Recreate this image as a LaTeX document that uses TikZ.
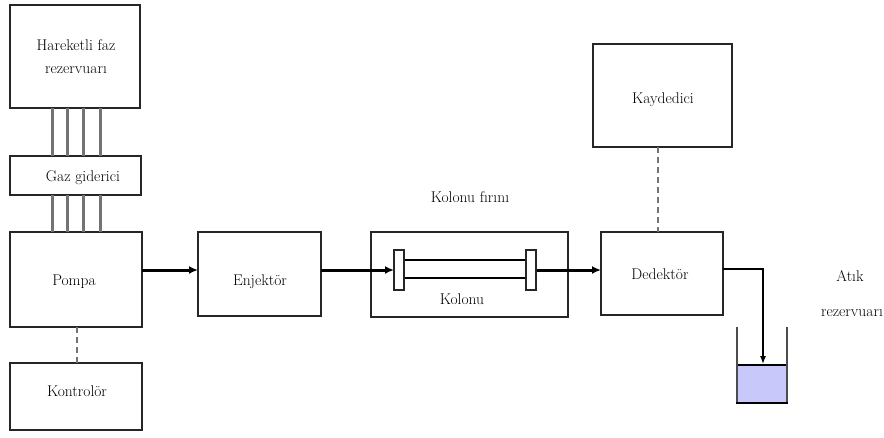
\documentclass[tikz,border=0pt]{standalone}
\usetikzlibrary{arrows.meta}
\begin{document}
\begin{tikzpicture}[x=1pt,y=-1pt,
  box/.style={draw=black!85,line width=2pt},
  lbl/.style={font=\fontsize{15.5}{18}\selectfont,inner sep=0pt},
  pipe/.style={draw=black!55,line width=3pt},
  flow/.style={draw=black,line width=3pt,-{Latex[length=9pt,width=8pt]}},
  thin/.style={draw=black,line width=1.3pt},
  dashline/.style={draw=black!55,line width=2pt,dash pattern=on 6pt off 4pt}]
\useasboundingbox (0,0) rectangle (884,437);
% boxes
\draw[box] (10,5) rectangle (140,108);
\node[lbl,align=center] (res) at (76,57) {Hareketli faz\\[5pt]rezervuarı};
\draw[box] (10,156) rectangle (141,195);
\node[lbl] (gaz) at (83,178) {Gaz giderici};
\draw[box] (10,232) rectangle (142,327);
\node[lbl] (pompa) at (74,282) {Pompa};
\draw[box] (10,363) rectangle (142,430);
\node[lbl] (kontrol) at (77,391) {Kontrolör};
\draw[box] (198,232) rectangle (321,316);
\node[lbl] (enj) at (260,282) {Enjektör};
\draw[box] (371,232) rectangle (568,317);
\node[lbl] (firin) at (470,197) {Kolonu fırını};
\node[lbl] (kolonu) at (462,299) {Kolonu};
\draw[box] (601,232) rectangle (723,315);
\node[lbl] (ded) at (660,274) {Dedektör};
\draw[box] (593,44) rectangle (732,147);
\node[lbl] (kay) at (663,100) {Kaydedici};
\node[lbl] (atik) at (850,276) {Atık};
\node[lbl] (atikr) at (852,313) {rezervuarı};
% named anchor coordinates
\coordinate (pompaR) at (142,270);
\coordinate (enjL) at (198,270);
\coordinate (enjR) at (321,270);
\coordinate (capL) at (394,270);
\coordinate (capR) at (536,270);
\coordinate (dedL) at (601,270);
\coordinate (dedR) at (723,269);
\coordinate (bend) at (763,269);
\coordinate (waste) at (763,364);
\coordinate (pompaB) at (77,327);
\coordinate (kontT) at (77,363);
\coordinate (kayB) at (658,147);
\coordinate (dedT) at (658,232);
% pipes
\foreach \x in {52,67,83,100}{
  \draw[pipe] (\x,108) -- (\x,156);
  \draw[pipe] (\x,195) -- (\x,232);
}
% flows
\draw[flow] (pompaR) -- (enjL);
\draw[flow] (enjR) -- (capL);
\draw[flow] (capR) -- (dedL);
% column
\draw[line width=1.3pt] (404,260) -- (526,260);
\draw[line width=1.3pt] (404,278) -- (526,278);
\draw[box,fill=white] (394,250) rectangle (404,290);
\draw[box,fill=white] (526,250) rectangle (536,290);
% waste
\fill[fill={rgb,255:red,200;green,200;blue,250}] (737,365) rectangle (787,404);
\draw[line width=1.3pt] (737,365) -- (787,365);
\draw[line width=1.3pt,draw=black!70] (737,327) -- (737,404);
\draw[line width=1.3pt,draw=black!70] (787,327) -- (787,404);
\draw[line width=2.5pt] (736,403) -- (788,403);
\draw[thin,-{Latex[length=8pt,width=6pt]}] (dedR) -- (bend) -- (waste);
% dashed
\draw[dashline] (pompaB) -- (kontT);
\draw[dashline] (kayB) -- (dedT);
\end{tikzpicture}
\end{document}
